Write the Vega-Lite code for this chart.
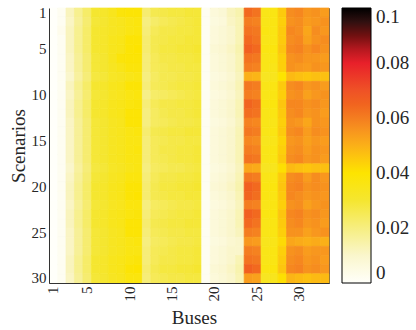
{
"$schema":"https://vega.github.io/schema/vega-lite/v6.json",
"autosize":{"type":"none"},
"padding":{"left":49,"top":8,"right":87,"bottom":47},
"width":280,"height":275,
"background":"white",
"config":{"view":{"stroke":"#555","strokeWidth":1},"font":"Liberation Serif"},
"data":{"values":[
{"b":1,"s":1,"v":0},{"b":1,"s":2,"v":0},{"b":1,"s":3,"v":0},{"b":1,"s":4,"v":0},{"b":1,"s":5,"v":0},{"b":1,"s":6,"v":0},{"b":1,"s":7,"v":0},{"b":1,"s":8,"v":0},{"b":1,"s":9,"v":0},{"b":1,"s":10,"v":0},{"b":1,"s":11,"v":0},{"b":1,"s":12,"v":0},{"b":1,"s":13,"v":0},{"b":1,"s":14,"v":0},{"b":1,"s":15,"v":0},{"b":1,"s":16,"v":0},{"b":1,"s":17,"v":0},{"b":1,"s":18,"v":0},{"b":1,"s":19,"v":0},{"b":1,"s":20,"v":0},{"b":1,"s":21,"v":0},{"b":1,"s":22,"v":0},{"b":1,"s":23,"v":0},{"b":1,"s":24,"v":0},{"b":1,"s":25,"v":0},{"b":1,"s":26,"v":0},{"b":1,"s":27,"v":0},{"b":1,"s":28,"v":0},{"b":1,"s":29,"v":0},{"b":1,"s":30,"v":0},
{"b":2,"s":1,"v":0.002},{"b":2,"s":2,"v":0.002},{"b":2,"s":3,"v":0.003},{"b":2,"s":4,"v":0.002},{"b":2,"s":5,"v":0.002},{"b":2,"s":6,"v":0.002},{"b":2,"s":7,"v":0.002},{"b":2,"s":8,"v":0.002},{"b":2,"s":9,"v":0.002},{"b":2,"s":10,"v":0.002},{"b":2,"s":11,"v":0.002},{"b":2,"s":12,"v":0.002},{"b":2,"s":13,"v":0.002},{"b":2,"s":14,"v":0.002},{"b":2,"s":15,"v":0.002},{"b":2,"s":16,"v":0.002},{"b":2,"s":17,"v":0.002},{"b":2,"s":18,"v":0.002},{"b":2,"s":19,"v":0.002},{"b":2,"s":20,"v":0.002},{"b":2,"s":21,"v":0.002},{"b":2,"s":22,"v":0.002},{"b":2,"s":23,"v":0.002},{"b":2,"s":24,"v":0.002},{"b":2,"s":25,"v":0.002},{"b":2,"s":26,"v":0.002},{"b":2,"s":27,"v":0.002},{"b":2,"s":28,"v":0.002},{"b":2,"s":29,"v":0.002},{"b":2,"s":30,"v":0.002},
{"b":3,"s":1,"v":0.012},{"b":3,"s":2,"v":0.011},{"b":3,"s":3,"v":0.012},{"b":3,"s":4,"v":0.012},{"b":3,"s":5,"v":0.012},{"b":3,"s":6,"v":0.011},{"b":3,"s":7,"v":0.011},{"b":3,"s":8,"v":0.010},{"b":3,"s":9,"v":0.012},{"b":3,"s":10,"v":0.011},{"b":3,"s":11,"v":0.012},{"b":3,"s":12,"v":0.012},{"b":3,"s":13,"v":0.011},{"b":3,"s":14,"v":0.011},{"b":3,"s":15,"v":0.011},{"b":3,"s":16,"v":0.011},{"b":3,"s":17,"v":0.011},{"b":3,"s":18,"v":0.010},{"b":3,"s":19,"v":0.011},{"b":3,"s":20,"v":0.012},{"b":3,"s":21,"v":0.012},{"b":3,"s":22,"v":0.011},{"b":3,"s":23,"v":0.012},{"b":3,"s":24,"v":0.012},{"b":3,"s":25,"v":0.011},{"b":3,"s":26,"v":0.011},{"b":3,"s":27,"v":0.011},{"b":3,"s":28,"v":0.012},{"b":3,"s":29,"v":0.012},{"b":3,"s":30,"v":0.011},
{"b":4,"s":1,"v":0.018},{"b":4,"s":2,"v":0.017},{"b":4,"s":3,"v":0.018},{"b":4,"s":4,"v":0.018},{"b":4,"s":5,"v":0.018},{"b":4,"s":6,"v":0.017},{"b":4,"s":7,"v":0.017},{"b":4,"s":8,"v":0.016},{"b":4,"s":9,"v":0.018},{"b":4,"s":10,"v":0.017},{"b":4,"s":11,"v":0.018},{"b":4,"s":12,"v":0.018},{"b":4,"s":13,"v":0.017},{"b":4,"s":14,"v":0.017},{"b":4,"s":15,"v":0.017},{"b":4,"s":16,"v":0.017},{"b":4,"s":17,"v":0.017},{"b":4,"s":18,"v":0.016},{"b":4,"s":19,"v":0.017},{"b":4,"s":20,"v":0.018},{"b":4,"s":21,"v":0.018},{"b":4,"s":22,"v":0.017},{"b":4,"s":23,"v":0.018},{"b":4,"s":24,"v":0.018},{"b":4,"s":25,"v":0.017},{"b":4,"s":26,"v":0.017},{"b":4,"s":27,"v":0.017},{"b":4,"s":28,"v":0.018},{"b":4,"s":29,"v":0.018},{"b":4,"s":30,"v":0.017},
{"b":5,"s":1,"v":0.023},{"b":5,"s":2,"v":0.022},{"b":5,"s":3,"v":0.023},{"b":5,"s":4,"v":0.023},{"b":5,"s":5,"v":0.023},{"b":5,"s":6,"v":0.022},{"b":5,"s":7,"v":0.022},{"b":5,"s":8,"v":0.021},{"b":5,"s":9,"v":0.023},{"b":5,"s":10,"v":0.022},{"b":5,"s":11,"v":0.023},{"b":5,"s":12,"v":0.023},{"b":5,"s":13,"v":0.022},{"b":5,"s":14,"v":0.022},{"b":5,"s":15,"v":0.022},{"b":5,"s":16,"v":0.022},{"b":5,"s":17,"v":0.022},{"b":5,"s":18,"v":0.021},{"b":5,"s":19,"v":0.022},{"b":5,"s":20,"v":0.023},{"b":5,"s":21,"v":0.023},{"b":5,"s":22,"v":0.022},{"b":5,"s":23,"v":0.023},{"b":5,"s":24,"v":0.023},{"b":5,"s":25,"v":0.022},{"b":5,"s":26,"v":0.022},{"b":5,"s":27,"v":0.022},{"b":5,"s":28,"v":0.023},{"b":5,"s":29,"v":0.023},{"b":5,"s":30,"v":0.022},
{"b":6,"s":1,"v":0.030},{"b":6,"s":2,"v":0.029},{"b":6,"s":3,"v":0.030},{"b":6,"s":4,"v":0.030},{"b":6,"s":5,"v":0.030},{"b":6,"s":6,"v":0.029},{"b":6,"s":7,"v":0.029},{"b":6,"s":8,"v":0.028},{"b":6,"s":9,"v":0.030},{"b":6,"s":10,"v":0.029},{"b":6,"s":11,"v":0.030},{"b":6,"s":12,"v":0.030},{"b":6,"s":13,"v":0.029},{"b":6,"s":14,"v":0.029},{"b":6,"s":15,"v":0.029},{"b":6,"s":16,"v":0.029},{"b":6,"s":17,"v":0.029},{"b":6,"s":18,"v":0.028},{"b":6,"s":19,"v":0.029},{"b":6,"s":20,"v":0.030},{"b":6,"s":21,"v":0.030},{"b":6,"s":22,"v":0.029},{"b":6,"s":23,"v":0.030},{"b":6,"s":24,"v":0.030},{"b":6,"s":25,"v":0.029},{"b":6,"s":26,"v":0.029},{"b":6,"s":27,"v":0.029},{"b":6,"s":28,"v":0.030},{"b":6,"s":29,"v":0.030},{"b":6,"s":30,"v":0.029},
{"b":7,"s":1,"v":0.031},{"b":7,"s":2,"v":0.030},{"b":7,"s":3,"v":0.031},{"b":7,"s":4,"v":0.031},{"b":7,"s":5,"v":0.031},{"b":7,"s":6,"v":0.030},{"b":7,"s":7,"v":0.030},{"b":7,"s":8,"v":0.029},{"b":7,"s":9,"v":0.031},{"b":7,"s":10,"v":0.030},{"b":7,"s":11,"v":0.031},{"b":7,"s":12,"v":0.031},{"b":7,"s":13,"v":0.030},{"b":7,"s":14,"v":0.030},{"b":7,"s":15,"v":0.030},{"b":7,"s":16,"v":0.030},{"b":7,"s":17,"v":0.030},{"b":7,"s":18,"v":0.029},{"b":7,"s":19,"v":0.030},{"b":7,"s":20,"v":0.031},{"b":7,"s":21,"v":0.031},{"b":7,"s":22,"v":0.030},{"b":7,"s":23,"v":0.031},{"b":7,"s":24,"v":0.031},{"b":7,"s":25,"v":0.030},{"b":7,"s":26,"v":0.030},{"b":7,"s":27,"v":0.030},{"b":7,"s":28,"v":0.031},{"b":7,"s":29,"v":0.031},{"b":7,"s":30,"v":0.030},
{"b":8,"s":1,"v":0.034},{"b":8,"s":2,"v":0.033},{"b":8,"s":3,"v":0.033},{"b":8,"s":4,"v":0.034},{"b":8,"s":5,"v":0.034},{"b":8,"s":6,"v":0.034},{"b":8,"s":7,"v":0.033},{"b":8,"s":8,"v":0.032},{"b":8,"s":9,"v":0.034},{"b":8,"s":10,"v":0.033},{"b":8,"s":11,"v":0.034},{"b":8,"s":12,"v":0.034},{"b":8,"s":13,"v":0.033},{"b":8,"s":14,"v":0.033},{"b":8,"s":15,"v":0.033},{"b":8,"s":16,"v":0.033},{"b":8,"s":17,"v":0.033},{"b":8,"s":18,"v":0.032},{"b":8,"s":19,"v":0.033},{"b":8,"s":20,"v":0.034},{"b":8,"s":21,"v":0.034},{"b":8,"s":22,"v":0.033},{"b":8,"s":23,"v":0.034},{"b":8,"s":24,"v":0.034},{"b":8,"s":25,"v":0.033},{"b":8,"s":26,"v":0.033},{"b":8,"s":27,"v":0.033},{"b":8,"s":28,"v":0.034},{"b":8,"s":29,"v":0.034},{"b":8,"s":30,"v":0.033},
{"b":9,"s":1,"v":0.038},{"b":9,"s":2,"v":0.034},{"b":9,"s":3,"v":0.034},{"b":9,"s":4,"v":0.035},{"b":9,"s":5,"v":0.035},{"b":9,"s":6,"v":0.038},{"b":9,"s":7,"v":0.035},{"b":9,"s":8,"v":0.033},{"b":9,"s":9,"v":0.035},{"b":9,"s":10,"v":0.034},{"b":9,"s":11,"v":0.035},{"b":9,"s":12,"v":0.035},{"b":9,"s":13,"v":0.034},{"b":9,"s":14,"v":0.034},{"b":9,"s":15,"v":0.034},{"b":9,"s":16,"v":0.034},{"b":9,"s":17,"v":0.034},{"b":9,"s":18,"v":0.033},{"b":9,"s":19,"v":0.034},{"b":9,"s":20,"v":0.035},{"b":9,"s":21,"v":0.035},{"b":9,"s":22,"v":0.034},{"b":9,"s":23,"v":0.035},{"b":9,"s":24,"v":0.035},{"b":9,"s":25,"v":0.034},{"b":9,"s":26,"v":0.034},{"b":9,"s":27,"v":0.034},{"b":9,"s":28,"v":0.035},{"b":9,"s":29,"v":0.035},{"b":9,"s":30,"v":0.034},
{"b":10,"s":1,"v":0.039},{"b":10,"s":2,"v":0.036},{"b":10,"s":3,"v":0.036},{"b":10,"s":4,"v":0.039},{"b":10,"s":5,"v":0.039},{"b":10,"s":6,"v":0.039},{"b":10,"s":7,"v":0.038},{"b":10,"s":8,"v":0.035},{"b":10,"s":9,"v":0.039},{"b":10,"s":10,"v":0.036},{"b":10,"s":11,"v":0.037},{"b":10,"s":12,"v":0.039},{"b":10,"s":13,"v":0.039},{"b":10,"s":14,"v":0.036},{"b":10,"s":15,"v":0.036},{"b":10,"s":16,"v":0.036},{"b":10,"s":17,"v":0.036},{"b":10,"s":18,"v":0.035},{"b":10,"s":19,"v":0.037},{"b":10,"s":20,"v":0.039},{"b":10,"s":21,"v":0.039},{"b":10,"s":22,"v":0.037},{"b":10,"s":23,"v":0.037},{"b":10,"s":24,"v":0.039},{"b":10,"s":25,"v":0.039},{"b":10,"s":26,"v":0.036},{"b":10,"s":27,"v":0.036},{"b":10,"s":28,"v":0.037},{"b":10,"s":29,"v":0.039},{"b":10,"s":30,"v":0.037},
{"b":11,"s":1,"v":0.039},{"b":11,"s":2,"v":0.037},{"b":11,"s":3,"v":0.037},{"b":11,"s":4,"v":0.039},{"b":11,"s":5,"v":0.040},{"b":11,"s":6,"v":0.039},{"b":11,"s":7,"v":0.038},{"b":11,"s":8,"v":0.036},{"b":11,"s":9,"v":0.039},{"b":11,"s":10,"v":0.037},{"b":11,"s":11,"v":0.038},{"b":11,"s":12,"v":0.039},{"b":11,"s":13,"v":0.039},{"b":11,"s":14,"v":0.037},{"b":11,"s":15,"v":0.036},{"b":11,"s":16,"v":0.037},{"b":11,"s":17,"v":0.036},{"b":11,"s":18,"v":0.036},{"b":11,"s":19,"v":0.037},{"b":11,"s":20,"v":0.039},{"b":11,"s":21,"v":0.040},{"b":11,"s":22,"v":0.037},{"b":11,"s":23,"v":0.038},{"b":11,"s":24,"v":0.039},{"b":11,"s":25,"v":0.039},{"b":11,"s":26,"v":0.037},{"b":11,"s":27,"v":0.036},{"b":11,"s":28,"v":0.038},{"b":11,"s":29,"v":0.040},{"b":11,"s":30,"v":0.037},
{"b":12,"s":1,"v":0.022},{"b":12,"s":2,"v":0.020},{"b":12,"s":3,"v":0.021},{"b":12,"s":4,"v":0.022},{"b":12,"s":5,"v":0.022},{"b":12,"s":6,"v":0.021},{"b":12,"s":7,"v":0.021},{"b":12,"s":8,"v":0.020},{"b":12,"s":9,"v":0.021},{"b":12,"s":10,"v":0.019},{"b":12,"s":11,"v":0.021},{"b":12,"s":12,"v":0.020},{"b":12,"s":13,"v":0.020},{"b":12,"s":14,"v":0.022},{"b":12,"s":15,"v":0.021},{"b":12,"s":16,"v":0.021},{"b":12,"s":17,"v":0.021},{"b":12,"s":18,"v":0.020},{"b":12,"s":19,"v":0.021},{"b":12,"s":20,"v":0.022},{"b":12,"s":21,"v":0.022},{"b":12,"s":22,"v":0.020},{"b":12,"s":23,"v":0.021},{"b":12,"s":24,"v":0.022},{"b":12,"s":25,"v":0.021},{"b":12,"s":26,"v":0.020},{"b":12,"s":27,"v":0.021},{"b":12,"s":28,"v":0.021},{"b":12,"s":29,"v":0.022},{"b":12,"s":30,"v":0.021},
{"b":13,"s":1,"v":0.026},{"b":13,"s":2,"v":0.023},{"b":13,"s":3,"v":0.025},{"b":13,"s":4,"v":0.026},{"b":13,"s":5,"v":0.026},{"b":13,"s":6,"v":0.025},{"b":13,"s":7,"v":0.025},{"b":13,"s":8,"v":0.024},{"b":13,"s":9,"v":0.025},{"b":13,"s":10,"v":0.023},{"b":13,"s":11,"v":0.025},{"b":13,"s":12,"v":0.024},{"b":13,"s":13,"v":0.024},{"b":13,"s":14,"v":0.026},{"b":13,"s":15,"v":0.025},{"b":13,"s":16,"v":0.025},{"b":13,"s":17,"v":0.025},{"b":13,"s":18,"v":0.024},{"b":13,"s":19,"v":0.025},{"b":13,"s":20,"v":0.026},{"b":13,"s":21,"v":0.026},{"b":13,"s":22,"v":0.024},{"b":13,"s":23,"v":0.025},{"b":13,"s":24,"v":0.026},{"b":13,"s":25,"v":0.025},{"b":13,"s":26,"v":0.024},{"b":13,"s":27,"v":0.025},{"b":13,"s":28,"v":0.025},{"b":13,"s":29,"v":0.026},{"b":13,"s":30,"v":0.025},
{"b":14,"s":1,"v":0.027},{"b":14,"s":2,"v":0.025},{"b":14,"s":3,"v":0.027},{"b":14,"s":4,"v":0.027},{"b":14,"s":5,"v":0.028},{"b":14,"s":6,"v":0.027},{"b":14,"s":7,"v":0.026},{"b":14,"s":8,"v":0.026},{"b":14,"s":9,"v":0.026},{"b":14,"s":10,"v":0.024},{"b":14,"s":11,"v":0.027},{"b":14,"s":12,"v":0.026},{"b":14,"s":13,"v":0.025},{"b":14,"s":14,"v":0.027},{"b":14,"s":15,"v":0.026},{"b":14,"s":16,"v":0.027},{"b":14,"s":17,"v":0.026},{"b":14,"s":18,"v":0.025},{"b":14,"s":19,"v":0.027},{"b":14,"s":20,"v":0.028},{"b":14,"s":21,"v":0.027},{"b":14,"s":22,"v":0.025},{"b":14,"s":23,"v":0.026},{"b":14,"s":24,"v":0.027},{"b":14,"s":25,"v":0.026},{"b":14,"s":26,"v":0.025},{"b":14,"s":27,"v":0.026},{"b":14,"s":28,"v":0.027},{"b":14,"s":29,"v":0.028},{"b":14,"s":30,"v":0.026},
{"b":15,"s":1,"v":0.028},{"b":15,"s":2,"v":0.026},{"b":15,"s":3,"v":0.027},{"b":15,"s":4,"v":0.028},{"b":15,"s":5,"v":0.028},{"b":15,"s":6,"v":0.027},{"b":15,"s":7,"v":0.027},{"b":15,"s":8,"v":0.026},{"b":15,"s":9,"v":0.027},{"b":15,"s":10,"v":0.025},{"b":15,"s":11,"v":0.027},{"b":15,"s":12,"v":0.027},{"b":15,"s":13,"v":0.026},{"b":15,"s":14,"v":0.028},{"b":15,"s":15,"v":0.027},{"b":15,"s":16,"v":0.027},{"b":15,"s":17,"v":0.027},{"b":15,"s":18,"v":0.026},{"b":15,"s":19,"v":0.027},{"b":15,"s":20,"v":0.028},{"b":15,"s":21,"v":0.028},{"b":15,"s":22,"v":0.026},{"b":15,"s":23,"v":0.027},{"b":15,"s":24,"v":0.028},{"b":15,"s":25,"v":0.027},{"b":15,"s":26,"v":0.026},{"b":15,"s":27,"v":0.027},{"b":15,"s":28,"v":0.027},{"b":15,"s":29,"v":0.028},{"b":15,"s":30,"v":0.027},
{"b":16,"s":1,"v":0.028},{"b":16,"s":2,"v":0.027},{"b":16,"s":3,"v":0.028},{"b":16,"s":4,"v":0.028},{"b":16,"s":5,"v":0.029},{"b":16,"s":6,"v":0.028},{"b":16,"s":7,"v":0.027},{"b":16,"s":8,"v":0.027},{"b":16,"s":9,"v":0.028},{"b":16,"s":10,"v":0.026},{"b":16,"s":11,"v":0.028},{"b":16,"s":12,"v":0.027},{"b":16,"s":13,"v":0.027},{"b":16,"s":14,"v":0.028},{"b":16,"s":15,"v":0.027},{"b":16,"s":16,"v":0.028},{"b":16,"s":17,"v":0.028},{"b":16,"s":18,"v":0.026},{"b":16,"s":19,"v":0.028},{"b":16,"s":20,"v":0.029},{"b":16,"s":21,"v":0.028},{"b":16,"s":22,"v":0.027},{"b":16,"s":23,"v":0.028},{"b":16,"s":24,"v":0.028},{"b":16,"s":25,"v":0.027},{"b":16,"s":26,"v":0.027},{"b":16,"s":27,"v":0.028},{"b":16,"s":28,"v":0.028},{"b":16,"s":29,"v":0.029},{"b":16,"s":30,"v":0.027},
{"b":17,"s":1,"v":0.029},{"b":17,"s":2,"v":0.028},{"b":17,"s":3,"v":0.028},{"b":17,"s":4,"v":0.029},{"b":17,"s":5,"v":0.029},{"b":17,"s":6,"v":0.028},{"b":17,"s":7,"v":0.028},{"b":17,"s":8,"v":0.027},{"b":17,"s":9,"v":0.028},{"b":17,"s":10,"v":0.027},{"b":17,"s":11,"v":0.028},{"b":17,"s":12,"v":0.028},{"b":17,"s":13,"v":0.027},{"b":17,"s":14,"v":0.029},{"b":17,"s":15,"v":0.028},{"b":17,"s":16,"v":0.028},{"b":17,"s":17,"v":0.028},{"b":17,"s":18,"v":0.027},{"b":17,"s":19,"v":0.028},{"b":17,"s":20,"v":0.029},{"b":17,"s":21,"v":0.029},{"b":17,"s":22,"v":0.027},{"b":17,"s":23,"v":0.028},{"b":17,"s":24,"v":0.029},{"b":17,"s":25,"v":0.028},{"b":17,"s":26,"v":0.027},{"b":17,"s":27,"v":0.028},{"b":17,"s":28,"v":0.028},{"b":17,"s":29,"v":0.029},{"b":17,"s":30,"v":0.028},
{"b":18,"s":1,"v":0.029},{"b":18,"s":2,"v":0.029},{"b":18,"s":3,"v":0.029},{"b":18,"s":4,"v":0.029},{"b":18,"s":5,"v":0.030},{"b":18,"s":6,"v":0.029},{"b":18,"s":7,"v":0.028},{"b":18,"s":8,"v":0.028},{"b":18,"s":9,"v":0.029},{"b":18,"s":10,"v":0.028},{"b":18,"s":11,"v":0.029},{"b":18,"s":12,"v":0.029},{"b":18,"s":13,"v":0.028},{"b":18,"s":14,"v":0.029},{"b":18,"s":15,"v":0.028},{"b":18,"s":16,"v":0.029},{"b":18,"s":17,"v":0.029},{"b":18,"s":18,"v":0.028},{"b":18,"s":19,"v":0.029},{"b":18,"s":20,"v":0.030},{"b":18,"s":21,"v":0.029},{"b":18,"s":22,"v":0.028},{"b":18,"s":23,"v":0.029},{"b":18,"s":24,"v":0.029},{"b":18,"s":25,"v":0.028},{"b":18,"s":26,"v":0.028},{"b":18,"s":27,"v":0.029},{"b":18,"s":28,"v":0.029},{"b":18,"s":29,"v":0.030},{"b":18,"s":30,"v":0.028},
{"b":19,"s":1,"v":0.002},{"b":19,"s":2,"v":0.002},{"b":19,"s":3,"v":0.002},{"b":19,"s":4,"v":0.002},{"b":19,"s":5,"v":0.002},{"b":19,"s":6,"v":0.002},{"b":19,"s":7,"v":0.002},{"b":19,"s":8,"v":0.002},{"b":19,"s":9,"v":0.002},{"b":19,"s":10,"v":0.002},{"b":19,"s":11,"v":0.002},{"b":19,"s":12,"v":0.002},{"b":19,"s":13,"v":0.002},{"b":19,"s":14,"v":0.002},{"b":19,"s":15,"v":0.002},{"b":19,"s":16,"v":0.002},{"b":19,"s":17,"v":0.002},{"b":19,"s":18,"v":0.002},{"b":19,"s":19,"v":0.002},{"b":19,"s":20,"v":0.002},{"b":19,"s":21,"v":0.002},{"b":19,"s":22,"v":0.002},{"b":19,"s":23,"v":0.002},{"b":19,"s":24,"v":0.002},{"b":19,"s":25,"v":0.002},{"b":19,"s":26,"v":0.002},{"b":19,"s":27,"v":0.002},{"b":19,"s":28,"v":0.002},{"b":19,"s":29,"v":0.002},{"b":19,"s":30,"v":0.002},
{"b":20,"s":1,"v":0.007},{"b":20,"s":2,"v":0.006},{"b":20,"s":3,"v":0.007},{"b":20,"s":4,"v":0.007},{"b":20,"s":5,"v":0.008},{"b":20,"s":6,"v":0.007},{"b":20,"s":7,"v":0.007},{"b":20,"s":8,"v":0.006},{"b":20,"s":9,"v":0.007},{"b":20,"s":10,"v":0.006},{"b":20,"s":11,"v":0.007},{"b":20,"s":12,"v":0.007},{"b":20,"s":13,"v":0.006},{"b":20,"s":14,"v":0.007},{"b":20,"s":15,"v":0.007},{"b":20,"s":16,"v":0.007},{"b":20,"s":17,"v":0.007},{"b":20,"s":18,"v":0.006},{"b":20,"s":19,"v":0.007},{"b":20,"s":20,"v":0.008},{"b":20,"s":21,"v":0.007},{"b":20,"s":22,"v":0.006},{"b":20,"s":23,"v":0.007},{"b":20,"s":24,"v":0.007},{"b":20,"s":25,"v":0.007},{"b":20,"s":26,"v":0.006},{"b":20,"s":27,"v":0.007},{"b":20,"s":28,"v":0.007},{"b":20,"s":29,"v":0.008},{"b":20,"s":30,"v":0.007},
{"b":21,"s":1,"v":0.008},{"b":21,"s":2,"v":0.007},{"b":21,"s":3,"v":0.008},{"b":21,"s":4,"v":0.008},{"b":21,"s":5,"v":0.009},{"b":21,"s":6,"v":0.008},{"b":21,"s":7,"v":0.008},{"b":21,"s":8,"v":0.007},{"b":21,"s":9,"v":0.008},{"b":21,"s":10,"v":0.007},{"b":21,"s":11,"v":0.008},{"b":21,"s":12,"v":0.008},{"b":21,"s":13,"v":0.007},{"b":21,"s":14,"v":0.008},{"b":21,"s":15,"v":0.008},{"b":21,"s":16,"v":0.008},{"b":21,"s":17,"v":0.008},{"b":21,"s":18,"v":0.007},{"b":21,"s":19,"v":0.008},{"b":21,"s":20,"v":0.009},{"b":21,"s":21,"v":0.008},{"b":21,"s":22,"v":0.007},{"b":21,"s":23,"v":0.008},{"b":21,"s":24,"v":0.008},{"b":21,"s":25,"v":0.008},{"b":21,"s":26,"v":0.007},{"b":21,"s":27,"v":0.008},{"b":21,"s":28,"v":0.008},{"b":21,"s":29,"v":0.009},{"b":21,"s":30,"v":0.008},
{"b":22,"s":1,"v":0.012},{"b":22,"s":2,"v":0.011},{"b":22,"s":3,"v":0.010},{"b":22,"s":4,"v":0.010},{"b":22,"s":5,"v":0.011},{"b":22,"s":6,"v":0.010},{"b":22,"s":7,"v":0.010},{"b":22,"s":8,"v":0.009},{"b":22,"s":9,"v":0.010},{"b":22,"s":10,"v":0.009},{"b":22,"s":11,"v":0.010},{"b":22,"s":12,"v":0.010},{"b":22,"s":13,"v":0.009},{"b":22,"s":14,"v":0.010},{"b":22,"s":15,"v":0.010},{"b":22,"s":16,"v":0.010},{"b":22,"s":17,"v":0.010},{"b":22,"s":18,"v":0.009},{"b":22,"s":19,"v":0.010},{"b":22,"s":20,"v":0.011},{"b":22,"s":21,"v":0.010},{"b":22,"s":22,"v":0.009},{"b":22,"s":23,"v":0.010},{"b":22,"s":24,"v":0.010},{"b":22,"s":25,"v":0.010},{"b":22,"s":26,"v":0.009},{"b":22,"s":27,"v":0.010},{"b":22,"s":28,"v":0.010},{"b":22,"s":29,"v":0.011},{"b":22,"s":30,"v":0.010},
{"b":23,"s":1,"v":0.014},{"b":23,"s":2,"v":0.013},{"b":23,"s":3,"v":0.013},{"b":23,"s":4,"v":0.013},{"b":23,"s":5,"v":0.014},{"b":23,"s":6,"v":0.013},{"b":23,"s":7,"v":0.013},{"b":23,"s":8,"v":0.012},{"b":23,"s":9,"v":0.013},{"b":23,"s":10,"v":0.012},{"b":23,"s":11,"v":0.013},{"b":23,"s":12,"v":0.013},{"b":23,"s":13,"v":0.012},{"b":23,"s":14,"v":0.013},{"b":23,"s":15,"v":0.013},{"b":23,"s":16,"v":0.013},{"b":23,"s":17,"v":0.013},{"b":23,"s":18,"v":0.012},{"b":23,"s":19,"v":0.013},{"b":23,"s":20,"v":0.014},{"b":23,"s":21,"v":0.013},{"b":23,"s":22,"v":0.012},{"b":23,"s":23,"v":0.013},{"b":23,"s":24,"v":0.013},{"b":23,"s":25,"v":0.012},{"b":23,"s":26,"v":0.010},{"b":23,"s":27,"v":0.010},{"b":23,"s":28,"v":0.013},{"b":23,"s":29,"v":0.014},{"b":23,"s":30,"v":0.013},
{"b":24,"s":1,"v":0.064},{"b":24,"s":2,"v":0.060},{"b":24,"s":3,"v":0.062},{"b":24,"s":4,"v":0.064},{"b":24,"s":5,"v":0.066},{"b":24,"s":6,"v":0.062},{"b":24,"s":7,"v":0.060},{"b":24,"s":8,"v":0.050},{"b":24,"s":9,"v":0.061},{"b":24,"s":10,"v":0.060},{"b":24,"s":11,"v":0.065},{"b":24,"s":12,"v":0.063},{"b":24,"s":13,"v":0.059},{"b":24,"s":14,"v":0.061},{"b":24,"s":15,"v":0.058},{"b":24,"s":16,"v":0.060},{"b":24,"s":17,"v":0.062},{"b":24,"s":18,"v":0.052},{"b":24,"s":19,"v":0.061},{"b":24,"s":20,"v":0.066},{"b":24,"s":21,"v":0.065},{"b":24,"s":22,"v":0.060},{"b":24,"s":23,"v":0.066},{"b":24,"s":24,"v":0.064},{"b":24,"s":25,"v":0.060},{"b":24,"s":26,"v":0.055},{"b":24,"s":27,"v":0.060},{"b":24,"s":28,"v":0.062},{"b":24,"s":29,"v":0.066},{"b":24,"s":30,"v":0.054},
{"b":25,"s":1,"v":0.062},{"b":25,"s":2,"v":0.059},{"b":25,"s":3,"v":0.061},{"b":25,"s":4,"v":0.062},{"b":25,"s":5,"v":0.064},{"b":25,"s":6,"v":0.061},{"b":25,"s":7,"v":0.059},{"b":25,"s":8,"v":0.049},{"b":25,"s":9,"v":0.060},{"b":25,"s":10,"v":0.059},{"b":25,"s":11,"v":0.063},{"b":25,"s":12,"v":0.062},{"b":25,"s":13,"v":0.058},{"b":25,"s":14,"v":0.060},{"b":25,"s":15,"v":0.057},{"b":25,"s":16,"v":0.059},{"b":25,"s":17,"v":0.061},{"b":25,"s":18,"v":0.051},{"b":25,"s":19,"v":0.060},{"b":25,"s":20,"v":0.064},{"b":25,"s":21,"v":0.063},{"b":25,"s":22,"v":0.059},{"b":25,"s":23,"v":0.064},{"b":25,"s":24,"v":0.062},{"b":25,"s":25,"v":0.059},{"b":25,"s":26,"v":0.054},{"b":25,"s":27,"v":0.059},{"b":25,"s":28,"v":0.061},{"b":25,"s":29,"v":0.064},{"b":25,"s":30,"v":0.053},
{"b":26,"s":1,"v":0.035},{"b":26,"s":2,"v":0.035},{"b":26,"s":3,"v":0.036},{"b":26,"s":4,"v":0.035},{"b":26,"s":5,"v":0.036},{"b":26,"s":6,"v":0.035},{"b":26,"s":7,"v":0.035},{"b":26,"s":8,"v":0.033},{"b":26,"s":9,"v":0.035},{"b":26,"s":10,"v":0.035},{"b":26,"s":11,"v":0.036},{"b":26,"s":12,"v":0.035},{"b":26,"s":13,"v":0.035},{"b":26,"s":14,"v":0.035},{"b":26,"s":15,"v":0.034},{"b":26,"s":16,"v":0.035},{"b":26,"s":17,"v":0.035},{"b":26,"s":18,"v":0.033},{"b":26,"s":19,"v":0.035},{"b":26,"s":20,"v":0.036},{"b":26,"s":21,"v":0.036},{"b":26,"s":22,"v":0.035},{"b":26,"s":23,"v":0.036},{"b":26,"s":24,"v":0.035},{"b":26,"s":25,"v":0.035},{"b":26,"s":26,"v":0.034},{"b":26,"s":27,"v":0.035},{"b":26,"s":28,"v":0.035},{"b":26,"s":29,"v":0.036},{"b":26,"s":30,"v":0.033},
{"b":27,"s":1,"v":0.036},{"b":27,"s":2,"v":0.036},{"b":27,"s":3,"v":0.036},{"b":27,"s":4,"v":0.036},{"b":27,"s":5,"v":0.037},{"b":27,"s":6,"v":0.036},{"b":27,"s":7,"v":0.035},{"b":27,"s":8,"v":0.034},{"b":27,"s":9,"v":0.036},{"b":27,"s":10,"v":0.036},{"b":27,"s":11,"v":0.037},{"b":27,"s":12,"v":0.036},{"b":27,"s":13,"v":0.035},{"b":27,"s":14,"v":0.036},{"b":27,"s":15,"v":0.035},{"b":27,"s":16,"v":0.036},{"b":27,"s":17,"v":0.036},{"b":27,"s":18,"v":0.034},{"b":27,"s":19,"v":0.036},{"b":27,"s":20,"v":0.037},{"b":27,"s":21,"v":0.036},{"b":27,"s":22,"v":0.036},{"b":27,"s":23,"v":0.037},{"b":27,"s":24,"v":0.036},{"b":27,"s":25,"v":0.036},{"b":27,"s":26,"v":0.035},{"b":27,"s":27,"v":0.036},{"b":27,"s":28,"v":0.036},{"b":27,"s":29,"v":0.037},{"b":27,"s":30,"v":0.034},
{"b":28,"s":1,"v":0.045},{"b":28,"s":2,"v":0.044},{"b":28,"s":3,"v":0.045},{"b":28,"s":4,"v":0.045},{"b":28,"s":5,"v":0.046},{"b":28,"s":6,"v":0.044},{"b":28,"s":7,"v":0.044},{"b":28,"s":8,"v":0.040},{"b":28,"s":9,"v":0.045},{"b":28,"s":10,"v":0.044},{"b":28,"s":11,"v":0.046},{"b":28,"s":12,"v":0.045},{"b":28,"s":13,"v":0.044},{"b":28,"s":14,"v":0.045},{"b":28,"s":15,"v":0.043},{"b":28,"s":16,"v":0.044},{"b":28,"s":17,"v":0.045},{"b":28,"s":18,"v":0.041},{"b":28,"s":19,"v":0.045},{"b":28,"s":20,"v":0.046},{"b":28,"s":21,"v":0.045},{"b":28,"s":22,"v":0.044},{"b":28,"s":23,"v":0.046},{"b":28,"s":24,"v":0.045},{"b":28,"s":25,"v":0.044},{"b":28,"s":26,"v":0.042},{"b":28,"s":27,"v":0.044},{"b":28,"s":28,"v":0.045},{"b":28,"s":29,"v":0.046},{"b":28,"s":30,"v":0.041},
{"b":29,"s":1,"v":0.057},{"b":29,"s":2,"v":0.056},{"b":29,"s":3,"v":0.058},{"b":29,"s":4,"v":0.057},{"b":29,"s":5,"v":0.058},{"b":29,"s":6,"v":0.056},{"b":29,"s":7,"v":0.056},{"b":29,"s":8,"v":0.048},{"b":29,"s":9,"v":0.057},{"b":29,"s":10,"v":0.056},{"b":29,"s":11,"v":0.058},{"b":29,"s":12,"v":0.057},{"b":29,"s":13,"v":0.056},{"b":29,"s":14,"v":0.057},{"b":29,"s":15,"v":0.055},{"b":29,"s":16,"v":0.056},{"b":29,"s":17,"v":0.057},{"b":29,"s":18,"v":0.048},{"b":29,"s":19,"v":0.057},{"b":29,"s":20,"v":0.058},{"b":29,"s":21,"v":0.058},{"b":29,"s":22,"v":0.056},{"b":29,"s":23,"v":0.058},{"b":29,"s":24,"v":0.057},{"b":29,"s":25,"v":0.056},{"b":29,"s":26,"v":0.052},{"b":29,"s":27,"v":0.056},{"b":29,"s":28,"v":0.057},{"b":29,"s":29,"v":0.058},{"b":29,"s":30,"v":0.049},
{"b":30,"s":1,"v":0.058},{"b":30,"s":2,"v":0.057},{"b":30,"s":3,"v":0.057},{"b":30,"s":4,"v":0.058},{"b":30,"s":5,"v":0.059},{"b":30,"s":6,"v":0.057},{"b":30,"s":7,"v":0.055},{"b":30,"s":8,"v":0.047},{"b":30,"s":9,"v":0.058},{"b":30,"s":10,"v":0.057},{"b":30,"s":11,"v":0.058},{"b":30,"s":12,"v":0.058},{"b":30,"s":13,"v":0.055},{"b":30,"s":14,"v":0.058},{"b":30,"s":15,"v":0.056},{"b":30,"s":16,"v":0.057},{"b":30,"s":17,"v":0.058},{"b":30,"s":18,"v":0.047},{"b":30,"s":19,"v":0.058},{"b":30,"s":20,"v":0.059},{"b":30,"s":21,"v":0.057},{"b":30,"s":22,"v":0.057},{"b":30,"s":23,"v":0.059},{"b":30,"s":24,"v":0.058},{"b":30,"s":25,"v":0.056},{"b":30,"s":26,"v":0.051},{"b":30,"s":27,"v":0.057},{"b":30,"s":28,"v":0.058},{"b":30,"s":29,"v":0.059},{"b":30,"s":30,"v":0.048},
{"b":31,"s":1,"v":0.055},{"b":31,"s":2,"v":0.054},{"b":31,"s":3,"v":0.052},{"b":31,"s":4,"v":0.053},{"b":31,"s":5,"v":0.056},{"b":31,"s":6,"v":0.055},{"b":31,"s":7,"v":0.054},{"b":31,"s":8,"v":0.046},{"b":31,"s":9,"v":0.055},{"b":31,"s":10,"v":0.053},{"b":31,"s":11,"v":0.056},{"b":31,"s":12,"v":0.055},{"b":31,"s":13,"v":0.052},{"b":31,"s":14,"v":0.054},{"b":31,"s":15,"v":0.053},{"b":31,"s":16,"v":0.054},{"b":31,"s":17,"v":0.055},{"b":31,"s":18,"v":0.046},{"b":31,"s":19,"v":0.054},{"b":31,"s":20,"v":0.056},{"b":31,"s":21,"v":0.055},{"b":31,"s":22,"v":0.053},{"b":31,"s":23,"v":0.056},{"b":31,"s":24,"v":0.055},{"b":31,"s":25,"v":0.053},{"b":31,"s":26,"v":0.050},{"b":31,"s":27,"v":0.054},{"b":31,"s":28,"v":0.055},{"b":31,"s":29,"v":0.056},{"b":31,"s":30,"v":0.047},
{"b":32,"s":1,"v":0.056},{"b":32,"s":2,"v":0.055},{"b":32,"s":3,"v":0.057},{"b":32,"s":4,"v":0.056},{"b":32,"s":5,"v":0.058},{"b":32,"s":6,"v":0.055},{"b":32,"s":7,"v":0.056},{"b":32,"s":8,"v":0.047},{"b":32,"s":9,"v":0.056},{"b":32,"s":10,"v":0.055},{"b":32,"s":11,"v":0.057},{"b":32,"s":12,"v":0.056},{"b":32,"s":13,"v":0.056},{"b":32,"s":14,"v":0.057},{"b":32,"s":15,"v":0.055},{"b":32,"s":16,"v":0.056},{"b":32,"s":17,"v":0.056},{"b":32,"s":18,"v":0.047},{"b":32,"s":19,"v":0.057},{"b":32,"s":20,"v":0.057},{"b":32,"s":21,"v":0.056},{"b":32,"s":22,"v":0.055},{"b":32,"s":23,"v":0.057},{"b":32,"s":24,"v":0.056},{"b":32,"s":25,"v":0.055},{"b":32,"s":26,"v":0.051},{"b":32,"s":27,"v":0.055},{"b":32,"s":28,"v":0.056},{"b":32,"s":29,"v":0.057},{"b":32,"s":30,"v":0.048},
{"b":33,"s":1,"v":0.054},{"b":33,"s":2,"v":0.056},{"b":33,"s":3,"v":0.055},{"b":33,"s":4,"v":0.057},{"b":33,"s":5,"v":0.056},{"b":33,"s":6,"v":0.054},{"b":33,"s":7,"v":0.055},{"b":33,"s":8,"v":0.047},{"b":33,"s":9,"v":0.054},{"b":33,"s":10,"v":0.056},{"b":33,"s":11,"v":0.055},{"b":33,"s":12,"v":0.054},{"b":33,"s":13,"v":0.055},{"b":33,"s":14,"v":0.056},{"b":33,"s":15,"v":0.054},{"b":33,"s":16,"v":0.055},{"b":33,"s":17,"v":0.054},{"b":33,"s":18,"v":0.047},{"b":33,"s":19,"v":0.055},{"b":33,"s":20,"v":0.056},{"b":33,"s":21,"v":0.055},{"b":33,"s":22,"v":0.056},{"b":33,"s":23,"v":0.055},{"b":33,"s":24,"v":0.054},{"b":33,"s":25,"v":0.056},{"b":33,"s":26,"v":0.050},{"b":33,"s":27,"v":0.055},{"b":33,"s":28,"v":0.054},{"b":33,"s":29,"v":0.055},{"b":33,"s":30,"v":0.048}
]},
"mark":{"type":"rect","strokeWidth":0.7,"stroke":{"expr":"scale('color', datum.v)"}},
"encoding":{
"x":{"field":"b","type":"ordinal","scale":{"paddingInner":0,"paddingOuter":0},
"axis":{"values":[1,5,10,15,20,25,30],"labelAngle":-90,"labelAlign":"right","labelBaseline":"middle","labelPadding":3,"ticks":false,"domain":true,"domainColor":"#333","labelFont":"Liberation Serif","labelFontSize":15,"labelColor":"#262626","title":"Buses","titleFont":"Liberation Serif","titleFontSize":19,"titleFontWeight":"normal","titleColor":"#262626","titleX":145,"titleY":40,"titleAlign":"center","titleBaseline":"alphabetic","zindex":1}},
"y":{"field":"s","type":"ordinal","scale":{"paddingInner":0,"paddingOuter":0},
"axis":{"values":[1,5,10,15,20,25,30],"labelPadding":3,"ticks":false,"domain":true,"domainColor":"#333","labelFont":"Liberation Serif","labelFontSize":15,"labelColor":"#262626","title":"Scenarios","titleFont":"Liberation Serif","titleFontSize":19,"titleFontWeight":"normal","titleColor":"#262626","titleAngle":-90,"titleX":-25,"titleY":137.5,"titleAlign":"center","titleBaseline":"alphabetic","zindex":1}},
"color":{"field":"v","type":"quantitative",
"scale":{"type":"linear","interpolate":"rgb","domain":[0,0.01,0.02,0.03,0.04,0.045,0.05,0.055,0.06,0.065,0.07,0.08,0.085,0.09,0.095,0.1],"range":["#fffffa","#faf6cc","#f6ee80","#f5e630","#fde400","#fdca0c","#fbb018","#f8971e","#f47d20","#f1641f","#ef5226","#e8202a","#b5181f","#701010","#301010","#000000"]},
"legend":{"type":"gradient","title":null,"orient":"right","direction":"vertical","values":[0,0.02,0.04,0.06,0.08,0.1],"format":"~g","gradientLength":275,"gradientThickness":29,"gradientStrokeColor":"#000","gradientStrokeWidth":1,"labelFont":"Liberation Serif","labelFontSize":19,"labelColor":"#262626","labelOffset":5,"labelBaseline":"middle","labelOverlap":false,"offset":13,"padding":0}}
}
}
